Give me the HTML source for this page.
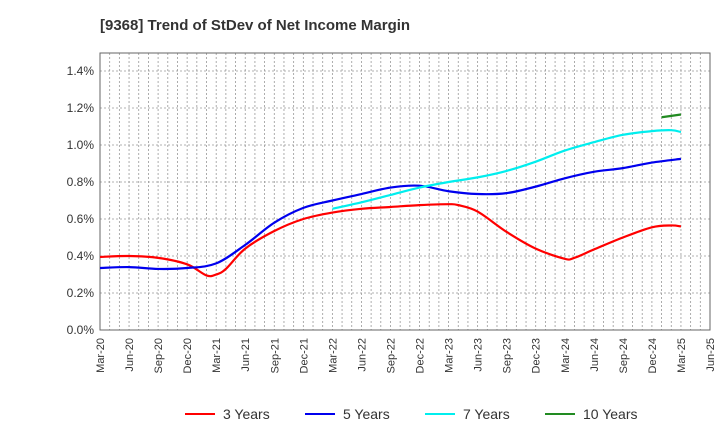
<!DOCTYPE html>
<html><head><meta charset="utf-8"><style>
body{margin:0;background:#fff;font-family:"Liberation Sans",sans-serif}
svg text{font-family:"Liberation Sans",sans-serif}
</style></head><body>
<svg width="720" height="440" xmlns="http://www.w3.org/2000/svg">
<text x="100" y="30" font-size="15" font-weight="bold" fill="#333">[9368]  Trend of StDev of Net Income Margin</text>
<g id="grid"></g><g id="axes"></g><g id="series"></g>
<g id="legend"></g>
</svg>
<script>
const xLabels=["Mar-20","Jun-20","Sep-20","Dec-20","Mar-21","Jun-21","Sep-21","Dec-21","Mar-22","Jun-22","Sep-22","Dec-22","Mar-23","Jun-23","Sep-23","Dec-23","Mar-24","Jun-24","Sep-24","Dec-24","Mar-25","Jun-25"];
const yTicks=[0,0.2,0.4,0.6,0.8,1.0,1.2,1.4];
// months since Mar-20
const m3=[0,3,6,9,11,12,13,15,18,21,24,27,30,33,36,37,39,42,45,48,49,51,54,57,59,60];
const v3=[0.395,0.40,0.39,0.355,0.295,0.30,0.33,0.44,0.535,0.60,0.635,0.655,0.665,0.675,0.68,0.675,0.64,0.53,0.44,0.385,0.39,0.435,0.50,0.555,0.565,0.56];
const m5=[0,3,6,9,12,15,18,21,24,27,30,33,36,39,42,45,48,51,54,57,60];
const v5=[0.335,0.34,0.33,0.335,0.36,0.46,0.58,0.66,0.70,0.735,0.77,0.78,0.75,0.735,0.74,0.775,0.82,0.855,0.875,0.905,0.925];
const m7=[24,27,30,33,36,39,42,45,48,51,54,57,59,60];
const v7=[0.655,0.69,0.73,0.77,0.80,0.825,0.86,0.91,0.97,1.015,1.055,1.075,1.08,1.07];
const m10=[58,60];
const v10=[1.15,1.165];
const NS="http://www.w3.org/2000/svg";
const X0=100,X1=710,Y0=330,YT=53;
const xs=m=>X0+m*(X1-X0)/63;
const ys=v=>Y0-v*(Y0-71)/1.4;
function mk(t,a,p){const e=document.createElementNS(NS,t);for(const k in a)e.setAttribute(k,a[k]);p.appendChild(e);return e;}
const grid=document.getElementById('grid'),axes=document.getElementById('axes'),ser=document.getElementById('series'),leg=document.getElementById('legend');
for(let m=1;m<63;m++){const x=xs(m);
 const l=mk('line',{x1:x,x2:x,y1:YT,y2:Y0,stroke:'#999','stroke-dasharray':'2,2','stroke-width':0.8},grid);
 }
for(let i=0;i<xLabels.length;i++){const x=xs(i*3);
 const t=mk('text',{x:0,y:0,'font-size':11,fill:'#333','text-anchor':'end',transform:`translate(${x+4},${Y0+8}) rotate(-90)`},axes);
 t.textContent=xLabels[i];}
yTicks.forEach(v=>{const y=ys(v);
 const l=mk('line',{x1:X0,x2:X1,y1:y,y2:y,stroke:'#999','stroke-dasharray':'2,2','stroke-width':0.8},grid);
 
 const t=mk('text',{x:X0-6,y:y+4,'font-size':12,fill:'#333','text-anchor':'end'},axes);
 t.textContent=v.toFixed(1)+'%';});
const fr=mk('rect',{x:X0,y:YT,width:X1-X0,height:Y0-YT,fill:'none',stroke:'#666'},axes);

function path(ms,vs){const p=ms.map((m,i)=>[xs(m),ys(vs[i])]);let d=`M${p[0][0]},${p[0][1]}`;
 for(let i=0;i<p.length-1;i++){const a=p[i-1]||p[i],b=p[i],c=p[i+1],e=p[i+2]||c;
  d+=` C${b[0]+(c[0]-a[0])/6},${b[1]+(c[1]-a[1])/6} ${c[0]-(e[0]-b[0])/6},${c[1]-(e[1]-b[1])/6} ${c[0]},${c[1]}`;}return d;}
const S=[["3 Years",m3,v3,"#ff0000"],["5 Years",m5,v5,"#0000ee"],["7 Years",m7,v7,"#00eeee"],["10 Years",m10,v10,"#228b22"]];
const lx=[185,305,425,545];
S.forEach((s,i)=>{const p=mk('path',{d:path(s[1],s[2]),fill:'none',stroke:s[3],'stroke-width':2.2},ser);
 
 const l=mk('line',{x1:lx[i],x2:lx[i]+30,y1:414,y2:414,stroke:s[3],'stroke-width':2},leg);
 
 const t=mk('text',{x:lx[i]+38,y:419,'font-size':14,fill:'#333'},leg);t.textContent=s[0];
 });
</script>
</body></html>
